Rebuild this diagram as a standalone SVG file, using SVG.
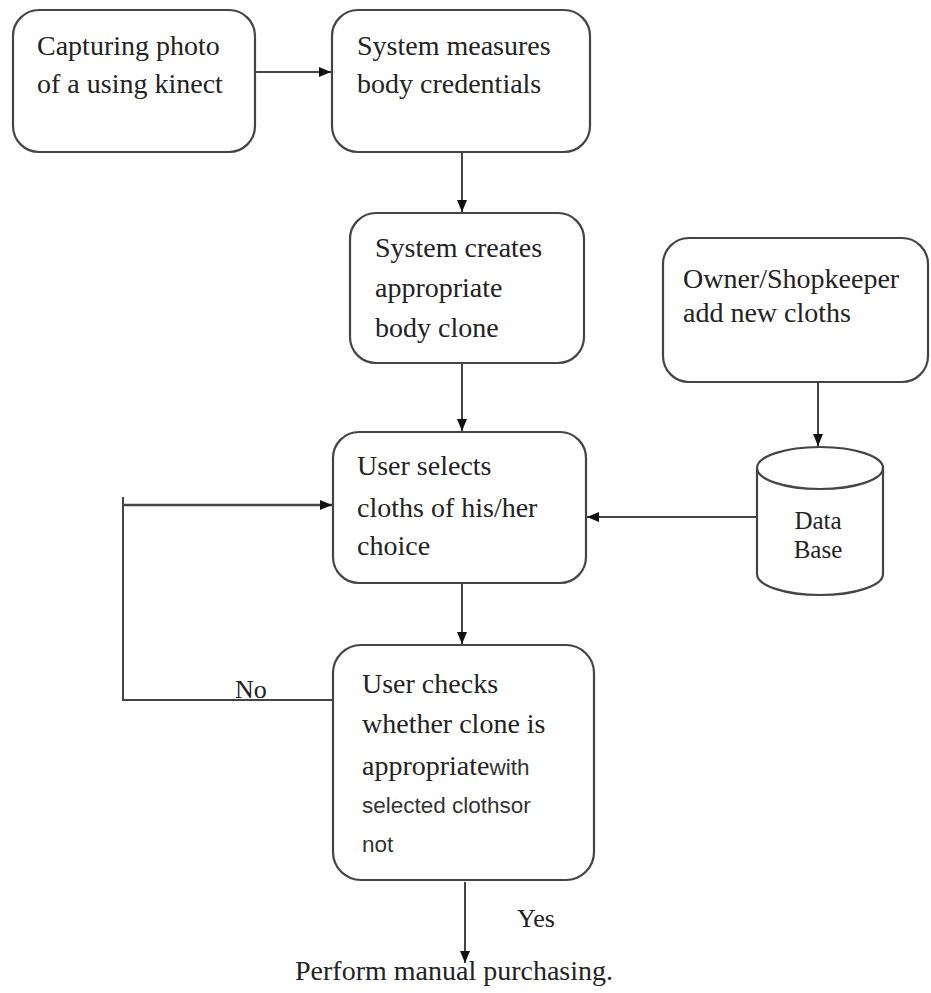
<svg xmlns="http://www.w3.org/2000/svg" width="931" height="993" viewBox="0 0 931 993">
<style>
.box{fill:#fff;stroke:#444;stroke-width:2.2}
.t{font-family:'Liberation Serif','DejaVu Serif',serif;font-size:28px;fill:#222}
.s{font-family:'Liberation Sans',sans-serif;font-size:22.5px;fill:#333}
.c{fill:none;stroke:#444;stroke-width:2}
</style>
<defs>
<marker id="ah" viewBox="0 0 12 10" refX="12" refY="5" markerWidth="12" markerHeight="10" orient="auto" markerUnits="userSpaceOnUse">
<path d="M0,0 L12,5 L0,10 z" fill="#111"/>
</marker>
</defs>
<rect width="931" height="993" fill="#fff"/>
<g id="connectors">
<line class="c" x1="255" y1="72" x2="331" y2="72" marker-end="url(#ah)"/>
<line class="c" x1="462" y1="152" x2="462" y2="212" marker-end="url(#ah)"/>
<line class="c" x1="462" y1="363" x2="462" y2="431" marker-end="url(#ah)"/>
<line class="c" x1="462" y1="583" x2="462" y2="644" marker-end="url(#ah)"/>
<line class="c" x1="818" y1="382" x2="818" y2="446" marker-end="url(#ah)"/>
<line class="c" x1="757" y1="517" x2="587" y2="517" marker-end="url(#ah)"/>
<polyline class="c" points="333,700 123,700 123,497"/>
<line class="c" x1="123" y1="505" x2="332" y2="505" marker-end="url(#ah)" style="stroke-width:2.5"/>
<line class="c" x1="465" y1="882" x2="465" y2="963" marker-end="url(#ah)"/>
<text class="t" font-family="Liberation Serif, serif" x="235" y="698" style="font-size:26px">No</text>
<text class="t" font-family="Liberation Serif, serif" x="517" y="927" style="font-size:26px">Yes</text>
</g>
<g id="n1">
<rect class="box" x="13" y="10" width="242" height="142" rx="26"/>
<text class="t" font-family="Liberation Serif, serif" x="37" y="55">Capturing photo</text>
<text class="t" font-family="Liberation Serif, serif" x="37" y="93">of a using kinect</text>
</g>
<g id="n2">
<rect class="box" x="332" y="10" width="258" height="142" rx="26"/>
<text class="t" font-family="Liberation Serif, serif" x="357" y="55">System measures</text>
<text class="t" font-family="Liberation Serif, serif" x="357" y="93">body credentials</text>
</g>
<g id="n3">
<rect class="box" x="350" y="213" width="234" height="150" rx="26"/>
<text class="t" font-family="Liberation Serif, serif" x="375" y="257">System creates</text>
<text class="t" font-family="Liberation Serif, serif" x="375" y="297">appropriate</text>
<text class="t" font-family="Liberation Serif, serif" x="375" y="337">body clone</text>
</g>
<g id="n4">
<rect class="box" x="333" y="432" width="253" height="151" rx="26"/>
<text class="t" font-family="Liberation Serif, serif" x="357" y="475">User selects</text>
<text class="t" font-family="Liberation Serif, serif" x="357" y="517">cloths of his/her</text>
<text class="t" font-family="Liberation Serif, serif" x="357" y="555">choice</text>
</g>
<g id="n5">
<rect class="box" x="333" y="645" width="261" height="235" rx="28"/>
<text class="t" font-family="Liberation Serif, serif" x="362" y="693">User checks</text>
<text class="t" font-family="Liberation Serif, serif" x="362" y="733">whether clone is</text>
<text class="t" font-family="Liberation Serif, serif" x="362" y="775">appropriate<tspan class="s" font-family="Liberation Sans, sans-serif">with</tspan></text>
<text class="s" font-family="Liberation Sans, sans-serif" x="362" y="813">selected clothsor</text>
<text class="s" font-family="Liberation Sans, sans-serif" x="362" y="852">not</text>
</g>
<g id="n6">
<rect class="box" x="663" y="238" width="265" height="144" rx="26"/>
<text class="t" font-family="Liberation Serif, serif" x="683" y="288">Owner/Shopkeeper</text>
<text class="t" font-family="Liberation Serif, serif" x="683" y="322">add new cloths</text>
</g>
<g id="db">
<path class="box" d="M757,468 L757,574 A63,21 0 0 0 883,574 L883,468 A63,21 0 0 0 757,468 Z"/>
<path class="c" d="M757,468 A63,21 0 0 0 883,468" style="stroke-width:2.2"/>
<text class="t" font-family="Liberation Serif, serif" x="818" y="529" text-anchor="middle" style="font-size:25px">Data</text>
<text class="t" font-family="Liberation Serif, serif" x="818" y="558" text-anchor="middle" style="font-size:25px">Base</text>
</g>
<g id="end">
<text class="t" font-family="Liberation Serif, serif" x="295" y="980">Perform manual purchasing.</text>
</g>
</svg>
